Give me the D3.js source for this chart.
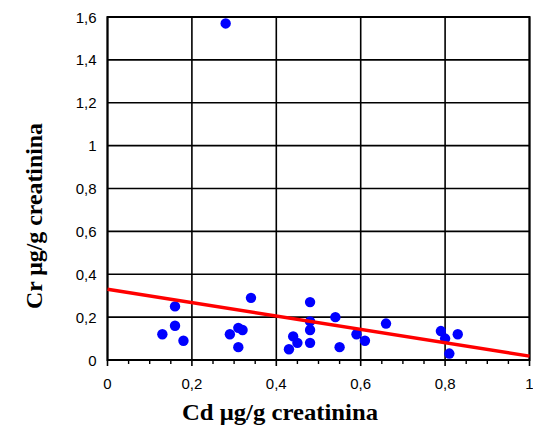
<!DOCTYPE html>
<html><head><meta charset="utf-8">
<script src="https://cdn.jsdelivr.net/npm/d3@7/dist/d3.min.js"></script>
<style>body{margin:0;background:#fff}svg{display:block}</style>
</head><body>
<svg id="c" width="533" height="428"></svg>
<script>
const cd = [0.28,0.13,0.16,0.16,0.18,0.29,0.31,0.32,0.31,0.34,0.43,0.44,0.45,0.48,0.48,0.48,0.48,0.54,0.55,0.59,0.61,0.66,0.79,0.80,0.81,0.83];
const cr = [1.57,0.12,0.25,0.16,0.09,0.12,0.15,0.14,0.06,0.29,0.05,0.11,0.08,0.27,0.18,0.14,0.08,0.20,0.06,0.12,0.09,0.17,0.135,0.10,0.03,0.12];
const trendX = [0, 1];
const trendY = [0.33, 0.018];
const xTicks = [0,0.2,0.4,0.6,0.8,1];
const yTicks = [0,0.2,0.4,0.6,0.8,1,1.2,1.4,1.6];
const xTitle = "Cd μg/g creatinina";
const yTitle = "Cr μg/g creatinina";

const svg = d3.select("#c");
const L=107.5, R=529.5, T=17, B=360;
const x = d3.scaleLinear().domain([0,1]).range([L,R]);
const y = d3.scaleLinear().domain([0,1.6]).range([B,T]);
const fmt = d => String(d).replace(".", ",");

// grid
const g = svg.append("g");
g.selectAll("line.h").data(yTicks).join("line")
  .attr("x1",L).attr("x2",R).attr("y1",d=>y(d)).attr("y2",d=>y(d))
  .attr("stroke","#000").attr("stroke-width",1.6);
g.selectAll("line.v").data(xTicks).join("line")
  .attr("x1",d=>x(d)).attr("x2",d=>x(d)).attr("y1",T).attr("y2",B+6)
  .attr("stroke","#000").attr("stroke-width",1.6);
// minor ticks
const minor = d3.range(0,1.0001,0.05).filter(v=>Math.abs(v*5-Math.round(v*5))>1e-6);
g.selectAll("line.m").data(minor).join("line")
  .attr("x1",d=>x(d)).attr("x2",d=>x(d)).attr("y1",B).attr("y2",B+4)
  .attr("stroke","#000").attr("stroke-width",1.4);
// frame
g.append("rect").attr("x",L).attr("y",T).attr("width",R-L).attr("height",B-T)
  .attr("fill","none").attr("stroke","#000").attr("stroke-width",2);

// axes labels
svg.append("g").selectAll("text").data(yTicks).join("text")
  .attr("x",L-11).attr("y",d=>y(d)+5.5).attr("text-anchor","end")
  .attr("font-family","Liberation Sans, Arial, sans-serif").attr("font-size",15)
  .text(fmt);
svg.append("g").selectAll("text").data(xTicks).join("text")
  .attr("x",d=>x(d)).attr("y",B+28.5).attr("text-anchor","middle")
  .attr("font-family","Liberation Sans, Arial, sans-serif").attr("font-size",15)
  .text(fmt);

// points
svg.append("g").selectAll("circle").data(cd.map((v,i)=>[v,cr[i]])).join("circle")
  .attr("cx",d=>x(d[0])).attr("cy",d=>y(d[1])).attr("r",5.2).attr("fill","#0000ff");

// trend
svg.append("line").attr("x1",x(trendX[0])).attr("y1",y(trendY[0]))
  .attr("x2",x(trendX[1])).attr("y2",y(trendY[1]))
  .attr("stroke","#ff0000").attr("stroke-width",3.5);

// titles
svg.append("text").attr("x",280).attr("y",420).attr("text-anchor","middle")
  .attr("font-family","Liberation Serif, Times New Roman, serif").attr("font-weight","bold").attr("font-size",23)
  .attr("textLength",196).attr("lengthAdjust","spacingAndGlyphs")
  .text(xTitle);
svg.append("text").attr("transform","translate(42,216) rotate(-90)").attr("text-anchor","middle")
  .attr("font-family","Liberation Serif, Times New Roman, serif").attr("font-weight","bold").attr("font-size",23)
  .attr("textLength",186).attr("lengthAdjust","spacingAndGlyphs")
  .text(yTitle);
</script>
</body></html>
